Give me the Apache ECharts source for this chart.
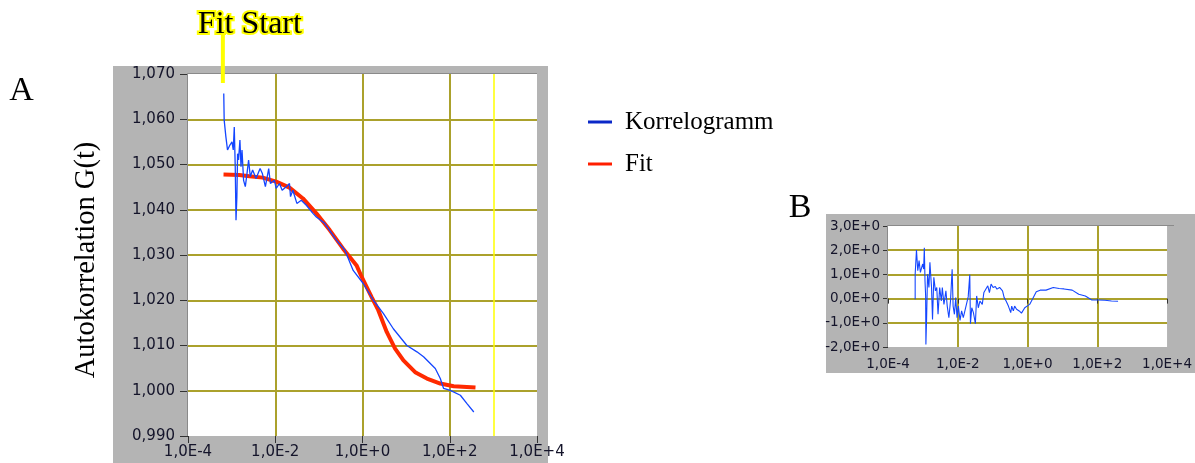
<!DOCTYPE html>
<html><head><meta charset="utf-8">
<script src="https://cdn.jsdelivr.net/npm/echarts@6/dist/echarts.min.js"></script>
<style>html,body{margin:0;padding:0;background:#fff}#c{width:1195px;height:463px}</style>
</head><body><div id="c"></div>
<script>
// ---------- data ----------
// Panel A: Korrelogramm (measured autocorrelation)
const korrT = [6.6e-4, 6.75e-4, 7.39e-4, 8.05e-4, 9.14e-4, 1.02e-3, 1.09e-3, 1.15e-3, 1.21e-3, 1.26e-3,
  1.32e-3, 1.37e-3, 1.44e-3, 1.55e-3, 1.64e-3, 1.73e-3, 1.88e-3, 2.06e-3, 2.25e-3, 2.45e-3,
  2.68e-3, 3.03e-3, 3.63e-3, 4.49e-3, 5.07e-3, 5.94e-3, 7.08e-3, 7.74e-3, 9.59e-3, 1.05e-2,
  1.25e-2, 1.44e-2, 1.78e-2, 2.12e-2, 2.24e-2, 2.53e-2, 3.13e-2, 3.95e-2, 5.15e-2, 7.31e-2,
  8.75e-2, 0.136, 0.252, 0.393, 0.611, 1.04, 1.77, 3.00, 5.09, 10.4,
  17.7, 25.1, 46.6, 60.7, 72.3, 103, 175, 251, 356];
const korrG = [1.0657, 1.0598, 1.0561, 1.0532, 1.0543, 1.0550, 1.0532, 1.0583, 1.0495, 1.0377,
  1.0429, 1.0524, 1.0510, 1.0554, 1.0495, 1.0532, 1.0465, 1.0451, 1.0480, 1.0510,
  1.0473, 1.0488, 1.0469, 1.0491, 1.0480, 1.0451, 1.0491, 1.0458, 1.0465, 1.0447,
  1.0458, 1.0443, 1.0451, 1.0458, 1.0429, 1.0443, 1.0414, 1.0421, 1.0410, 1.0392,
  1.0384, 1.0370, 1.0333, 1.0311, 1.0266, 1.0237, 1.0200, 1.0171, 1.0137, 1.0100,
  1.0086, 1.0075, 1.0049, 1.0027, 1.0005, 1.0001, 0.9990, 0.9971, 0.9953];
// Panel A: Fit
const fitT = [6.52e-4, 1.5e-3, 2.55e-3, 5.15e-3, 1.05e-2, 2.12e-2, 4.31e-2, 8.75e-2, 0.177, 0.359,
  0.731, 0.953, 1.62, 2.30, 3.59, 5.58, 8.67, 16.1, 30.0, 60.7, 123, 389];
const fitG = [1.0478, 1.0477, 1.0474, 1.0471, 1.0462, 1.0449, 1.0425, 1.0392, 1.0355, 1.0314,
  1.0277, 1.0252, 1.0207, 1.0178, 1.0130, 1.0093, 1.0067, 1.0041, 1.0027, 1.0016, 1.0010, 1.0007];
// Fit window markers (yellow lines)
const fitStartT = 6.3e-4;
const fitEndT = 1000;
// Panel B: residuals
const resT = [6.01e-4, 6.01e-4, 6.55e-4, 7.14e-4, 7.78e-4, 8.49e-4, 9.25e-4, 9.87e-4, 1.05e-3, 1.10e-3,
  1.15e-3, 1.20e-3, 1.22e-3, 1.28e-3, 1.36e-3, 1.49e-3, 1.59e-3, 1.77e-3, 1.89e-3, 2.06e-3,
  2.29e-3, 2.50e-3, 2.72e-3, 3.03e-3, 3.38e-3, 3.61e-3, 4.02e-3, 4.57e-3, 4.99e-3, 5.56e-3,
  6.19e-3, 6.90e-3, 7.36e-3, 8.02e-3, 8.75e-3, 9.53e-3, 1.04e-2, 1.16e-2, 1.29e-2, 1.44e-2,
  1.60e-2, 1.82e-2, 1.99e-2, 2.21e-2, 2.31e-2, 2.52e-2, 2.81e-2, 3.20e-2, 3.48e-2, 3.88e-2,
  4.32e-2, 5.04e-2, 5.61e-2, 6.24e-2, 7.26e-2, 8.09e-2, 9.02e-2, 0.103, 0.119, 0.133,
  0.158, 0.176, 0.192, 0.214, 0.243, 0.283, 0.330, 0.352, 0.392, 0.427,
  0.486, 0.578, 0.671, 0.834, 0.970, 1.15, 1.43, 1.78, 2.30, 3.40,
  5.46, 8.05, 11.1, 19.1, 29.4, 45.4, 69.8, 108, 166, 255, 394];
const resV = [-0.03, 1.01, 2.01, 1.15, 1.57, 1.08, 1.29, 1.43, 1.22, 2.10,
  0.74, 0.11, -1.90, -0.79, 1.01, 0.46, 1.50, 0.46, -0.86, 0.88,
  0.32, 0.46, -0.65, 0.46, -0.10, 0.46, -0.24, 0.32, -0.31, -0.79,
  -0.10, 1.21, -0.31, -0.65, 0.04, -0.79, -0.31, -0.90, -0.51, -0.79,
  -0.86, -0.17, 0.07, 0.99, -1.04, -0.38, -0.58, -1.04, 0.11, -0.38,
  -0.10, -0.24, 0.25, 0.32, 0.53, 0.25, 0.60, 0.46, 0.50, 0.39,
  0.46, 0.53, 0.32, 0.04, -0.10, -0.31, -0.58, -0.31, -0.51, -0.31,
  -0.44, -0.51, -0.60, -0.38, -0.31, -0.24, 0.01, 0.28, 0.35, 0.35,
  0.46, 0.42, 0.40, 0.35, 0.18, 0.11, -0.06, -0.06, -0.07, -0.10, -0.11];

// axis ranges
const xMin = 1e-4, xMax = 1e4, xStepDecades = 2;
const yAMin = 0.990, yAMax = 1.070, yAStep = 0.010;
const yBMin = -2, yBMax = 3, yBStep = 1;

// ---------- chart ----------
const GRID_COLOR = '#aba12c';
const LABEL_COLOR = '#14142a';
const PANEL = '#b4b4b4';
const zip = (a, b) => a.map((v, i) => [v, b[i]]);
const expLabel = v => { const e = Math.round(Math.log10(v)); return '1,0E' + (e < 0 ? '-' : '+') + Math.abs(e); };

const chart = echarts.init(document.getElementById('c'), null, {renderer: 'canvas'});

function xAxisCfg(gridIndex, fs, margin, tickLen) {
  return {
    type: 'log', logBase: 10, gridIndex, min: xMin, max: xMax, interval: xStepDecades,
    axisLine: {show: false},
    axisTick: {show: true, length: tickLen, lineStyle: {color: '#333', width: 1}},
    axisLabel: {formatter: expLabel, color: LABEL_COLOR, fontFamily: 'DejaVu Sans', fontSize: fs, margin},
    splitLine: {show: true, showMinLine: false, showMaxLine: false, lineStyle: {color: GRID_COLOR, width: 2}},
    minorTick: {show: false}, minorSplitLine: {show: false}
  };
}

chart.setOption({
  animation: false,
  backgroundColor: '#ffffff',
  grid: [
    {left: 188, top: 74, width: 349, height: 362, show: true, backgroundColor: '#ffffff', borderWidth: 0},
    {left: 888, top: 226, width: 286, height: 121, show: true, backgroundColor: '#ffffff', borderWidth: 0}
  ],
  xAxis: [xAxisCfg(0, 15, 9, 7), xAxisCfg(1, 13.5, 10, 5)],
  yAxis: [
    {type: 'value', gridIndex: 0, min: yAMin, max: yAMax, interval: yAStep,
     axisLine: {show: false},
     axisTick: {show: true, length: 8, lineStyle: {color: '#333'}},
     axisLabel: {formatter: v => v.toFixed(3).replace('.', ','), color: LABEL_COLOR, fontFamily: 'DejaVu Sans', fontSize: 15, margin: 13},
     splitLine: {show: true, showMinLine: false, showMaxLine: false, lineStyle: {color: GRID_COLOR, width: 2}}},
    {type: 'value', gridIndex: 1, min: yBMin, max: yBMax, interval: yBStep,
     axisLine: {show: false},
     axisTick: {show: true, length: 5, lineStyle: {color: '#333'}},
     axisLabel: {formatter: v => v.toFixed(1).replace('.', ',') + 'E+0', color: LABEL_COLOR, fontFamily: 'DejaVu Sans', fontSize: 13.5, margin: 8},
     splitLine: {show: true, showMinLine: false, showMaxLine: false, lineStyle: {color: GRID_COLOR, width: 2}}}
  ],
  legend: {
    orient: 'vertical', left: 588, top: 109, itemWidth: 24, itemHeight: 3, itemGap: 16,
    icon: 'rect', padding: 0,
    textStyle: {fontFamily: 'Liberation Serif', fontSize: 25, lineHeight: 26, color: '#000', padding: [0, 0, 0, 8]},
    data: [
      {name: 'Korrelogramm', itemStyle: {color: '#0a28c8'}},
      {name: 'Fit', itemStyle: {color: '#ff1e00'}}
    ]
  },
  series: [
    {name: 'Fit', type: 'line', xAxisIndex: 0, yAxisIndex: 0, data: zip(fitT, fitG),
     showSymbol: false, smooth: false, z: 3, lineStyle: {color: '#ff2a00', width: 4}, itemStyle: {color: '#ff2a00'},
     markLine: {silent: true, symbol: 'none', label: {show: false},
       lineStyle: {color: '#ffff00', width: 1.5, type: 'solid'},
       data: [{xAxis: fitStartT}, {xAxis: fitEndT}]}},
    {name: 'Korrelogramm', type: 'line', xAxisIndex: 0, yAxisIndex: 0, data: zip(korrT, korrG),
     showSymbol: false, z: 4, lineStyle: {color: '#1446ff', width: 1.3}, itemStyle: {color: '#1446ff'}},
    {name: 'Residuen', type: 'line', xAxisIndex: 1, yAxisIndex: 1, data: zip(resT, resV),
     showSymbol: false, z: 4, lineStyle: {color: '#1446ff', width: 1.1}, itemStyle: {color: '#1446ff'}}
  ]
});

// data-linked annotation position
const startPx = chart.convertToPixel({gridIndex: 0}, [fitStartT, yAMax]);
chart.setOption({
  graphic: [
    {type: 'rect', z: -10, shape: {x: 113, y: 66, width: 435, height: 397}, style: {fill: PANEL}},
    {type: 'rect', z: -10, shape: {x: 826, y: 214, width: 369, height: 159}, style: {fill: PANEL}},
    {type: 'polyline', z: 50, shape: {points: [[187.5, 436], [187.5, 73.5], [537, 73.5]]}, style: {stroke: '#8a8a8a', lineWidth: 1, fill: null}},
    {type: 'polyline', z: 50, shape: {points: [[887.5, 347], [887.5, 225.5], [1174, 225.5]]}, style: {stroke: '#8a8a8a', lineWidth: 1, fill: null}},
    {type: 'rect', z: 100, shape: {x: startPx[0] - 2, y: 30, width: 4, height: startPx[1] + 9 - 30}, style: {fill: '#ffff00'}},
    {type: 'text', z: 100, x: startPx[0] - 25, y: 25, style: {text: 'Fit Start', font: '32px "Liberation Serif"', fill: '#000', stroke: '#ffff00', lineWidth: 4, align: 'left', verticalAlign: 'middle'}},
    {type: 'text', x: 21.5, y: 91, style: {text: 'A', font: '34px "Liberation Serif"', fill: '#000', align: 'center', verticalAlign: 'middle'}},
    {type: 'text', x: 800, y: 208, style: {text: 'B', font: '34px "Liberation Serif"', fill: '#000', align: 'center', verticalAlign: 'middle'}},
    {type: 'text', x: 87, y: 260, rotation: Math.PI / 2, style: {text: 'Autokorrelation G(t)', font: '28.5px "Liberation Serif"', fill: '#000', align: 'center', verticalAlign: 'middle'}}
  ]
});
</script></body></html>
